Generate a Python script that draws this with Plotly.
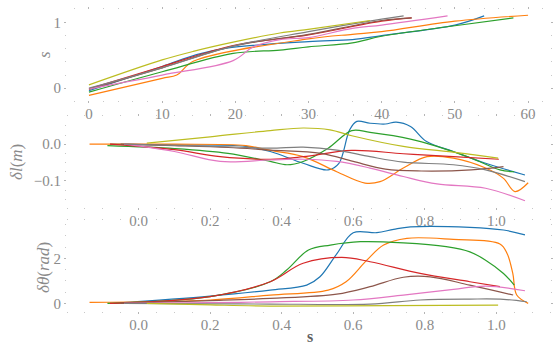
import plotly.graph_objects as go
from plotly.subplots import make_subplots

W, H = 553, 347

colors = {
    "blue": "#1f77b4", "orange": "#ff7f0e", "green": "#2ca02c", "red": "#d62728",
    "brown": "#8c564b", "pink": "#e377c2", "gray": "#7f7f7f", "olive": "#bcbd22",
}
order = ["blue", "orange", "green", "red", "brown", "pink", "gray", "olive"]

# --- top panel: s against arc length ---
top_x = {
    "blue":   [0, 10, 14.7, 18.8, 30, 36, 40, 50, 54.0],
    "orange": [0, 10, 12.0, 14.25, 30, 36, 40, 50, 60.0],
    "green":  [0, 10, 19.7, 26.1, 30, 36, 40, 50, 58.0],
    "red":    [0, 10, 19.7, 30, 40, 44.1],
    "brown":  [0, 10, 19.7, 30, 40, 44.1],
    "pink":   [0, 10, 19.7, 22.5, 26.1, 30, 36, 40, 49.0],
    "gray":   [0, 10, 19.7, 30, 40, 43.0],
    "olive":  [0, 10, 14.25, 19.7, 26.1, 30.2, 38.4],
}
top_y = {
    "blue":   [-0.04, 0.33, 0.51, 0.61, 0.71, 0.74, 0.80, 0.96, 1.10],
    "orange": [-0.11, 0.15, 0.20, 0.41, 0.75, 0.82, 0.86, 1.02, 1.11],
    "green":  [-0.06, 0.25, 0.53, 0.58, 0.63, 0.69, 0.79, 0.95, 1.07],
    "red":    [-0.01, 0.33, 0.65, 0.81, 1.02, 1.07],
    "brown":  [-0.02, 0.31, 0.64, 0.82, 1.03, 1.07],
    "pink":   [-0.01, 0.20, 0.42, 0.63, 0.74, 0.77, 0.91, 0.96, 1.10],
    "gray":   [0.00, 0.31, 0.64, 0.86, 1.05, 1.10],
    "olive":  [0.05, 0.43, 0.56, 0.70, 0.84, 0.90, 1.03],
}

# --- middle panel: length deviation ---
mid_x = {
    "blue":   [-0.079, 0.1, 0.3, 0.368, 0.46, 0.53, 0.56, 0.59, 0.61, 0.647, 0.69, 0.72, 0.76, 0.805, 0.88, 0.97, 1.08],
    "orange": [-0.137, 0.1, 0.3, 0.368, 0.46, 0.554, 0.633, 0.675, 0.74, 0.806, 0.88, 0.97, 1.02, 1.052, 1.089],
    "green":  [-0.087, 0.1, 0.25, 0.368, 0.415, 0.46, 0.53, 0.596, 0.647, 0.76, 0.834, 0.93, 1.01, 1.05],
    "red":    [-0.08, 0.1, 0.228, 0.368, 0.46, 0.596, 0.74, 0.88, 1.007],
    "brown":  [-0.05, 0.1, 0.25, 0.368, 0.51, 0.6, 0.69, 0.79, 0.93, 1.02],
    "pink":   [-0.04, 0.1, 0.228, 0.368, 0.46, 0.554, 0.647, 0.74, 0.834, 0.97, 1.08],
    "gray":   [-0.04, 0.1, 0.25, 0.368, 0.46, 0.554, 0.647, 0.74, 0.88, 0.97, 1.08],
    "olive":  [0.023, 0.2, 0.368, 0.46, 0.535, 0.596, 0.74, 0.89, 1.005],
}
mid_y = {
    "blue":   [0.0, -0.002, -0.006, -0.02, -0.052, -0.07, -0.052, 0.039, 0.062, 0.057, 0.055, 0.06, 0.048, 0.007, -0.02, -0.052, -0.084],
    "orange": [0.0, 0.0, -0.004, -0.017, -0.034, -0.075, -0.106, -0.102, -0.065, -0.034, -0.038, -0.065, -0.093, -0.129, -0.105],
    "green":  [-0.004, -0.012, -0.025, -0.047, -0.056, -0.047, -0.011, 0.037, 0.032, 0.014, -0.006, -0.038, -0.07, -0.075],
    "red":    [0.0, -0.015, -0.034, -0.041, -0.034, -0.017, -0.026, -0.034, -0.041],
    "brown":  [0.0, -0.004, -0.009, -0.016, -0.025, -0.047, -0.068, -0.073, -0.07, -0.061],
    "pink":   [0.0, -0.02, -0.047, -0.043, -0.041, -0.047, -0.065, -0.088, -0.108, -0.12, -0.154],
    "gray":   [0.0, -0.003, -0.007, -0.011, -0.008, -0.016, -0.034, -0.049, -0.056, -0.07, -0.102],
    "olive":  [0.003, 0.02, 0.037, 0.044, 0.039, 0.023, -0.006, -0.023, -0.038],
}

# --- bottom panel: angle deviation ---
bot_x = {
    "blue":   [-0.07, 0.2, 0.368, 0.47, 0.507, 0.554, 0.6, 0.666, 0.713, 0.76, 0.926, 1.02, 1.08],
    "orange": [-0.137, 0.2, 0.368, 0.53, 0.58, 0.638, 0.685, 0.75, 0.88, 1.01, 1.03, 1.046, 1.057, 1.089],
    "green":  [-0.087, 0.2, 0.368, 0.414, 0.475, 0.536, 0.62, 0.74, 0.86, 0.926, 0.97, 1.02, 1.05],
    "red":    [-0.08, 0.2, 0.368, 0.46, 0.568, 0.647, 0.787, 0.926, 1.01],
    "brown":  [-0.05, 0.2, 0.368, 0.554, 0.647, 0.74, 0.815, 0.926, 1.047],
    "pink":   [-0.04, 0.2, 0.368, 0.6, 0.74, 0.88, 0.97, 1.08],
    "gray":   [-0.04, 0.2, 0.368, 0.647, 0.787, 0.926, 1.02, 1.085],
    "olive":  [0.023, 0.2, 0.368, 0.7, 1.005],
}
bot_y = {
    "blue":   [0.0, 0.32, 0.59, 0.81, 1.18, 2.2, 3.14, 3.14, 3.29, 3.4, 3.38, 3.26, 3.04],
    "orange": [0.04, 0.15, 0.37, 0.59, 0.96, 1.92, 2.59, 2.89, 2.84, 2.64, 2.22, 1.33, 0.37, 0.0],
    "green":  [0.0, 0.3, 0.96, 1.48, 2.37, 2.59, 2.74, 2.69, 2.52, 2.29, 1.92, 1.33, 0.81],
    "red":    [0.0, 0.3, 0.96, 1.78, 2.04, 1.85, 1.33, 0.96, 0.74],
    "brown":  [0.0, 0.12, 0.22, 0.41, 0.74, 1.16, 1.18, 0.81, 0.37],
    "pink":   [0.0, 0.03, 0.07, 0.15, 0.37, 0.62, 0.77, 0.56],
    "gray":   [0.0, -0.02, -0.03, -0.03, 0.15, 0.19, 0.18, 0.07],
    "olive":  [0.0, -0.07, -0.12, -0.1, -0.08],
}

y_titles = ["<i>s</i>", "<i>δl</i>(<i>m</i>)", "<i>δθ</i>(<i>rad</i>)"]
x_title = "<b>s</b>"

fig = make_subplots(rows=3, cols=1)

panels = [(top_x, top_y, 1), (mid_x, mid_y, 2), (bot_x, bot_y, 3)]
for xs, ys, row in panels:
    for name in order:
        fig.add_trace(
            go.Scatter(x=xs[name], y=ys[name], mode="lines", line_shape="spline",
                       line=dict(color=colors[name], width=1.2), showlegend=False,
                       hoverinfo="skip"),
            row=row, col=1,
        )

FONT = "Liberation Serif"
TICK_COL = "#8a8a8a"
xdom = [67 / W, 550 / W]

def ydom(top_px, bot_px):
    return [(H - bot_px) / H, (H - top_px) / H]

common = dict(
    showgrid=False, zeroline=False, showline=False,
    ticks="outside", ticklen=2, tickwidth=1, tickcolor="#b5b5b5", mirror="ticks",
    tickfont=dict(family=FONT, size=15, color=TICK_COL),
)
xcommon = dict(common, ticklabelstandoff=-2)
minor_style = dict(ticks="outside", ticklen=1, tickcolor="#c8c8c8", tick0=0)

fig.update_layout(
    width=W, height=H, margin=dict(l=0, r=0, t=0, b=0),
    paper_bgcolor="white", plot_bgcolor="white",
    xaxis=dict(domain=xdom, range=[-3, 63], tickvals=[0, 10, 20, 30, 40, 50, 60],
               minor=dict(dtick=2, **minor_style), **xcommon),
    yaxis=dict(domain=ydom(10, 100), range=[-0.18, 1.19], tickvals=[0, 1],
               minor=dict(dtick=0.2, **minor_style), **common),
    xaxis2=dict(domain=xdom, range=[-0.2, 1.15], tickvals=[0, 0.2, 0.4, 0.6, 0.8, 1.0], tickformat=".1f",
                minor=dict(dtick=0.05, **minor_style), **xcommon),
    yaxis2=dict(domain=ydom(117, 207), range=[-0.171, 0.074], tickvals=[-0.1, 0.0], tickformat=".1f",
                minor=dict(dtick=0.025, **minor_style), **common),
    xaxis3=dict(domain=xdom, range=[-0.2, 1.15], tickvals=[0, 0.2, 0.4, 0.6, 0.8, 1.0], tickformat=".1f",
                minor=dict(dtick=0.05, **minor_style), **xcommon),
    yaxis3=dict(domain=ydom(221, 311), range=[-0.34, 3.66], tickvals=[0, 2],
                minor=dict(dtick=0.5, **minor_style), **common),
)

# axis titles placed as annotations in pixel-derived paper coordinates
title_pos = [(44, 55), (16, 162), (43, 268)]
for text, (px, py) in zip(y_titles, title_pos):
    fig.add_annotation(text=text, x=px / W, y=(H - py) / H, xref="paper", yref="paper",
                       showarrow=False, textangle=-90, xanchor="center", yanchor="middle",
                       font=dict(family=FONT, size=17, color=TICK_COL))
fig.add_annotation(text=x_title, x=310 / W, y=(H - 336) / H, xref="paper", yref="paper",
                   showarrow=False, xanchor="center", yanchor="middle",
                   font=dict(family=FONT, size=16, color="#606060"))

fig.write_html("out.html")
